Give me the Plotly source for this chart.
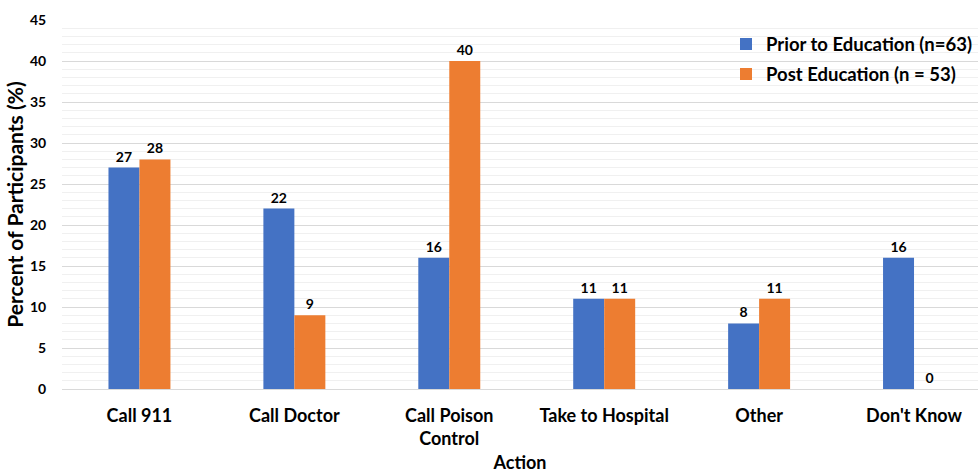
import plotly.graph_objects as go

categories = ["Call 911", "Call Doctor", "Call Poison<br>Control", "Take to Hospital", "Other", "Don't Know"]
prior = [27, 22, 16, 11, 8, 16]
post = [28, 9, 40, 11, 11, 0]
series_names = ["Prior to Education (n=63)", "Post Education (n = 53)"]
y_ticks = [0, 5, 10, 15, 20, 25, 30, 35, 40, 45]

FONT = "Lato"
fig = go.Figure()
for i, (vals, name, color) in enumerate([(prior, series_names[0], "#4472C4"), (post, series_names[1], "#ED7D31")]):
    fig.add_trace(go.Bar(x=list(range(len(categories))), y=vals, name=name,
                         legendgroup=f"g{i}",
                         marker=dict(color=color, line=dict(width=0)),
                         text=vals, textposition="outside",
                         textfont=dict(size=14, color="#000", family=FONT, weight="bold"),
                         cliponaxis=False))

fig.update_layout(
    width=978, height=473,
    margin=dict(l=62, r=0, t=20, b=84),
    plot_bgcolor="white", paper_bgcolor="white",
    barmode="group", bargap=0.6, bargroupgap=0,
    font=dict(family=FONT, color="#000", size=13),
    legend=dict(x=0.725, y=0.985, xanchor="left", yanchor="top",
                font=dict(size=18.5, family=FONT, color="#000", weight="bold"),
                bgcolor="rgba(0,0,0,0)", itemwidth=30,
                traceorder="grouped", tracegroupgap=3),
)
fig.update_xaxes(
    tickmode="array", tickvals=list(range(len(categories))), ticktext=categories,
    range=[-0.5, 5.413], showgrid=False, zeroline=False, automargin=False,
    showline=True, linecolor="#d9d9d9", linewidth=1,
    ticks="outside", ticklen=10, tickcolor="rgba(0,0,0,0)",
    tickfont=dict(size=18, family=FONT, weight="bold"),
    title=dict(text="Action", font=dict(size=18, family=FONT, weight="bold"), standoff=11),
)
fig.update_yaxes(
    range=[0, 45], tickmode="array", tickvals=y_ticks, automargin=False,
    showgrid=True, gridcolor="#d9d9d9", gridwidth=1, zeroline=False,
    minor=dict(dtick=1, showgrid=True, gridcolor="#f0f0f0", gridwidth=1),
    ticks="outside", ticklen=12, tickcolor="rgba(0,0,0,0)",
    tickfont=dict(size=14, family=FONT, weight="bold"),
    title=dict(text="Percent of Participants (%)", font=dict(size=21, family=FONT, weight="bold"), standoff=0),
)
fig.write_html("out.html")
